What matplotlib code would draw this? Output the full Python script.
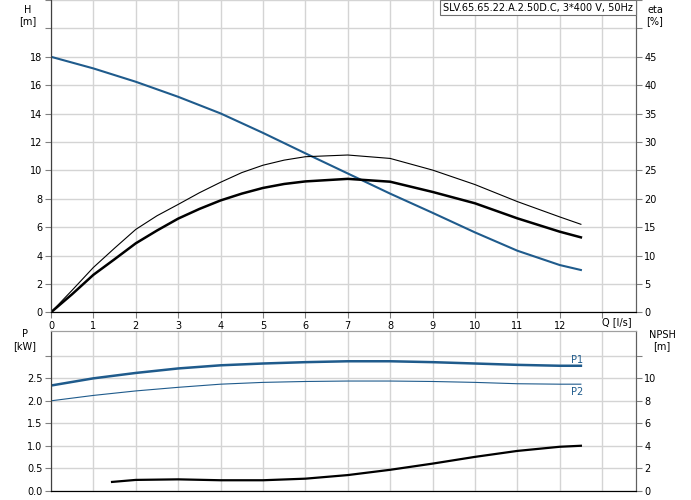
import numpy as np
import matplotlib.pyplot as plt

# Flow values [l/s]
q = [0, 1, 2, 3, 4, 5, 6, 7, 8, 9, 10, 11, 12, 12.5]

# Head curve [m]
head = [18.0, 17.18, 16.24, 15.18, 14.01, 12.64, 11.2, 9.78, 8.36, 7.01, 5.63, 4.34, 3.33, 2.98]

# Efficiency curves [%]
q_eta = [0, 0.5, 1, 1.5, 2, 2.5, 3, 3.5, 4, 4.5, 5, 5.5, 6, 7, 8, 9, 10, 11, 12, 12.5]
eta_pump = [0, 3.9, 7.9, 11.3, 14.6, 17.0, 19.0, 21.05, 22.9, 24.6, 25.9, 26.8, 27.4, 27.7, 27.1,
            25.05, 22.5, 19.5, 16.8, 15.5]
eta_total = [0, 3.2, 6.6, 9.35, 12.15, 14.4, 16.5, 18.2, 19.7, 20.9, 21.9, 22.6, 23.05, 23.5, 23.0,
             21.2, 19.2, 16.55, 14.2, 13.2]

# Power curves [kW]
p1 = [2.34, 2.50, 2.62, 2.72, 2.79, 2.83, 2.86, 2.88, 2.88, 2.86, 2.83, 2.80, 2.78, 2.78]
p2 = [2.00, 2.12, 2.22, 2.30, 2.37, 2.41, 2.43, 2.44, 2.44, 2.43, 2.41, 2.38, 2.37, 2.37]

# NPSH curve [m]
q_npsh = [1.44, 2, 3, 4, 5, 6, 7, 8, 9, 10, 11, 12, 12.5]
npsh = [0.78, 0.96, 1.01, 0.93, 0.93, 1.07, 1.39, 1.86, 2.41, 3.01, 3.54, 3.91, 4.0]

title = "SLV.65.65.22.A.2.50D.C, 3*400 V, 50Hz"

blue = '#1f5b8c'
grid_c = '#d4d4d4'
tick_c = '#808080'
fs = 7

fig = plt.figure(figsize=(6.91, 5.00), dpi=100)

# ================================ Top panel: H and eta =================================
ax1 = fig.add_axes([51/691, 1 - 312.3/500, 585/691, 312.3/500])
ax1.set_xlim(0, 13.8)
ax1.set_ylim(0, 22)
ax1.set_xticks(range(0, 14))
ax1.set_xticklabels([str(i) for i in range(13)] + [''])
ax1.set_yticks(range(0, 23, 2))
ax1.set_yticklabels([str(i) for i in range(0, 19, 2)] + ['', ''])
ax1.grid(color=grid_c, linewidth=1)
ax1.set_axisbelow(True)

ax1.plot(q, head, color=blue, linewidth=1.5, zorder=3)

# eta on secondary axis (eta = 2.5 * H grid)
ax1r = ax1.twinx()
ax1r.set_ylim(0, 55)
ax1r.set_yticks(range(0, 56, 5))
ax1r.set_yticklabels([str(i) for i in range(0, 46, 5)] + ['', ''])
ax1r.plot(q_eta, eta_pump, color='black', linewidth=0.8)
ax1r.plot(q_eta, eta_total, color='black', linewidth=1.8)

for a in (ax1, ax1r):
    a.tick_params(labelsize=fs, length=4, color=tick_c, pad=2)
    a.spines['top'].set_visible(False)
    a.spines['left'].set_color('#404040')
    a.spines['right'].set_color('#606060')
    a.spines['bottom'].set_color('black')

fig.text(28/691, 1 - 10/500, 'H', fontsize=fs, ha='center', va='center')
fig.text(28/691, 1 - 21/500, '[m]', fontsize=fs, ha='center', va='center')
fig.text(655/691, 1 - 10/500, 'eta', fontsize=fs, ha='center', va='center')
fig.text(655/691, 1 - 21/500, '[%]', fontsize=fs, ha='center', va='center')
fig.text(617/691, 1 - 322.5/500, 'Q [l/s]', fontsize=fs, ha='center', va='center')

fig.text(538/691, 1 - 7.5/500, title, fontsize=fs, ha='center', va='center',
         bbox=dict(boxstyle='square,pad=0.3', facecolor='white', edgecolor='#707070', linewidth=0.8))

# ================================ Bottom panel: P and NPSH =================================
ax2 = fig.add_axes([51/691, 1 - 490.7/500, 585/691, 160/500])
ax2.set_xlim(0, 13.8)
ax2.set_ylim(0, 3.56)
ax2.set_xticks(range(0, 14))
ax2.set_xticklabels([])
ax2.set_yticks(np.arange(0, 3.01, 0.5))
ax2.set_yticklabels(['0.0', '0.5', '1.0', '1.5', '2.0', '2.5', ''])
ax2.grid(color=grid_c, linewidth=1)
ax2.set_axisbelow(True)

ax2.plot(q, p1, color=blue, linewidth=1.8)
ax2.plot(q, p2, color=blue, linewidth=0.8)
ax2.text(12.4, 2.91, 'P1', color=blue, fontsize=fs, ha='center', va='center')
ax2.text(12.4, 2.19, 'P2', color=blue, fontsize=fs, ha='center', va='center')

ax2r = ax2.twinx()
ax2r.set_ylim(0, 14.24)
ax2r.set_yticks(range(0, 13, 2))
ax2r.set_yticklabels(['0', '2', '4', '6', '8', '10', ''])
ax2r.plot(q_npsh, npsh, color='black', linewidth=1.6)

for a in (ax2, ax2r):
    a.tick_params(labelsize=fs, length=4, color=tick_c, pad=2)
    a.tick_params(axis='x', length=0)
    a.spines['top'].set_color('#a0a0a0')
    a.spines['left'].set_color('#404040')
    a.spines['right'].set_color('#606060')
    a.spines['bottom'].set_color('black')

fig.text(25/691, 1 - 334/500, 'P', fontsize=fs, ha='center', va='center')
fig.text(25/691, 1 - 346/500, '[kW]', fontsize=fs, ha='center', va='center')
fig.text(662/691, 1 - 335/500, 'NPSH', fontsize=fs, ha='center', va='center')
fig.text(662/691, 1 - 346/500, '[m]', fontsize=fs, ha='center', va='center')

fig.savefig('out.png', dpi=100)
